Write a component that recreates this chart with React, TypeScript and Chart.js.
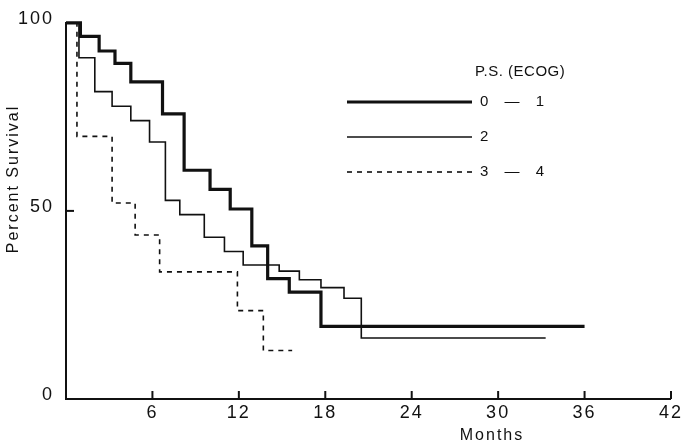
import React, { useEffect, useRef } from 'react';
import { Chart, registerables } from 'chart.js';

Chart.register(...registerables);

// Axis ticks
const monthTicks = [6, 12, 18, 24, 30, 36, 42];
const percentTicks = [0, 50, 100];

// P.S. (ECOG) 0 - 1
const ps01Months = [0, 1.0, 2.3, 3.4, 4.5, 6.7, 8.2, 10.0, 11.4, 12.9, 14.0, 15.5, 17.7, 36];
const ps01Survival = [100, 96.4, 92.5, 89.2, 84.3, 75.8, 60.8, 55.7, 50.5, 40.7, 32.0, 28.4, 19.3, 19.3];

// P.S. (ECOG) 2
const ps2Months = [0, 0.9, 2.0, 3.2, 4.5, 5.8, 6.9, 7.9, 9.6, 11.0, 12.3, 14.8, 16.2, 17.7, 19.3, 20.5, 33.3];
const ps2Survival = [100, 90.7, 81.7, 77.8, 74.0, 68.3, 52.8, 49.0, 43.0, 39.2, 35.6, 34.0, 31.7, 29.6, 26.8, 16.2, 16.2];

// P.S. (ECOG) 3 - 4
const ps34Months = [0, 0.76, 3.2, 4.8, 6.5, 11.9, 13.7, 15.7];
const ps34Survival = [100, 69.8, 52.1, 43.6, 33.8, 23.5, 12.9, 12.9];

const legendTitle = 'P.S. (ECOG)';
const seriesLabels = ['0 \u2014 1', '2', '3 \u2014 4'];
const xTitle = 'Months';
const yTitle = 'Percent Survival';

const INK = '#111111';
const FONT = '"Liberation Sans", Arial, sans-serif';

const toPoints = (xs: number[], ys: number[]) => xs.map((x, i) => ({ x, y: ys[i] }));

const decorPlugin = {
  id: 'decor',
  beforeUpdate(chart: any) {
    chart.ctx.letterSpacing = '2px';
  },
  afterDraw(chart: any) {
    const { ctx, chartArea, scales } = chart;
    const xs = scales.x;
    const ys = scales.y;
    ctx.save();
    ctx.strokeStyle = INK;
    ctx.lineWidth = 2;
    // inner tick marks
    monthTicks.forEach((m) => {
      const px = xs.getPixelForValue(m);
      ctx.beginPath();
      ctx.moveTo(px, chartArea.bottom);
      ctx.lineTo(px, chartArea.bottom - 8);
      ctx.stroke();
    });
    const p50 = ys.getPixelForValue(50);
    ctx.beginPath();
    ctx.moveTo(chartArea.left, p50);
    ctx.lineTo(chartArea.left + 8, p50);
    ctx.stroke();

    // axis titles
    ctx.fillStyle = INK;
    ctx.letterSpacing = '2px';
    ctx.font = `16px ${FONT}`;
    ctx.textAlign = 'center';
    ctx.textBaseline = 'middle';
    ctx.fillText(xTitle, 492, 436);
    ctx.save();
    ctx.translate(14, 179);
    ctx.rotate(-Math.PI / 2);
    ctx.fillText(yTitle, 0, 0);
    ctx.restore();

    // legend
    const ds = chart.data.datasets;
    const rows = [102, 137, 172];
    ctx.textAlign = 'left';
    ctx.font = `15px ${FONT}`;
    ctx.letterSpacing = '0.5px';
    ctx.fillText(legendTitle, 475, 72);
    ctx.letterSpacing = '6px';
    rows.forEach((y, i) => {
      const d = ds[i];
      ctx.save();
      ctx.strokeStyle = d.borderColor;
      ctx.lineWidth = d.borderWidth;
      ctx.setLineDash(d.borderDash || []);
      ctx.beginPath();
      ctx.moveTo(347, y);
      ctx.lineTo(472, y);
      ctx.stroke();
      ctx.restore();
      ctx.fillText(seriesLabels[i], 480, y);
    });
    ctx.restore();
  },
};

export default function App() {
  const ref = useRef<HTMLCanvasElement | null>(null);

  useEffect(() => {
    if (!ref.current) return;
    const chart = new Chart(ref.current, {
      type: 'line',
      data: {
        datasets: [
          {
            label: seriesLabels[0],
            data: toPoints(ps01Months, ps01Survival),
            borderColor: INK,
            borderWidth: 3.2,
            stepped: true,
            pointRadius: 0,
            fill: false,
            clip: false,
          },
          {
            label: seriesLabels[1],
            data: toPoints(ps2Months, ps2Survival),
            borderColor: INK,
            borderWidth: 1.6,
            stepped: true,
            pointRadius: 0,
            fill: false,
            clip: false,
          },
          {
            label: seriesLabels[2],
            data: toPoints(ps34Months, ps34Survival),
            borderColor: INK,
            borderWidth: 1.6,
            borderDash: [5, 5],
            stepped: true,
            pointRadius: 0,
            fill: false,
            clip: false,
          },
        ] as any,
      },
      options: {
        animation: false,
        responsive: false,
        layout: { padding: { left: 0, top: 11, right: 8, bottom: 0 } },
        plugins: { legend: { display: false }, tooltip: { enabled: false }, title: { display: false } },
        scales: {
          x: {
            type: 'linear',
            min: 0,
            max: 42,
            grid: { display: false, drawTicks: false },
            border: { display: true, color: INK, width: 2 },
            afterBuildTicks: (scale: any) => {
              scale.ticks = monthTicks.map((v) => ({ value: v }));
            },
            afterFit: (scale: any) => {
              scale.height = 47;
            },
            ticks: {
              color: INK,
              font: { family: FONT, size: 18 },
              padding: 3,
              maxRotation: 0,
              autoSkip: false,
            },
          },
          y: {
            type: 'linear',
            min: 0,
            max: 100,
            grid: { display: false, drawTicks: false },
            border: { display: true, color: INK, width: 2 },
            afterBuildTicks: (scale: any) => {
              scale.ticks = percentTicks.map((v) => ({ value: v }));
            },
            afterFit: (scale: any) => {
              scale.width = 66;
            },
            ticks: {
              color: INK,
              font: { family: FONT, size: 18 },
              padding: 12,
              labelOffset: -4,
            },
          },
        },
      } as any,
      plugins: [decorPlugin],
    });
    return () => chart.destroy();
  }, []);

  return (
    <div style={{ position: 'absolute', left: 0, top: 0, width: 686, height: 446, background: '#fff' }}>
      <canvas ref={ref} width={686} height={446} style={{ display: 'block' }} />
    </div>
  );
}
